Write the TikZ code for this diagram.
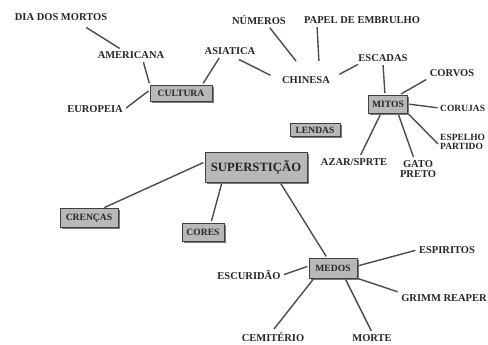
\documentclass[tikz,border=0pt]{standalone}
\usepackage{fontspec}
\setmainfont{Liberation Serif}
\usetikzlibrary{shadows}
\begin{document}
\begin{tikzpicture}[x=1pt,y=-1pt,
  lbl/.style={font=\bfseries\fontsize{10.5}{11}\selectfont, text=black!85, inner sep=2pt},
  edge lbl/.style={lbl, font=\bfseries\fontsize{9.5}{10}\selectfont, inner sep=1pt, anchor=west},
  box/.style={font=\bfseries\fontsize{9.6}{10}\selectfont, text=black!85, draw=black!75, line width=0.6pt, fill=black!28, inner xsep=0pt, inner ysep=0pt,
     drop shadow={shadow xshift=1.6pt, shadow yshift=-1.6pt, fill=black!65, opacity=0.8}},
  link/.style={draw=black!70, line width=1.4pt, shorten >=1.5pt, shorten <=1.5pt}
]
\useasboundingbox (0,0) rectangle (488,345);
% boxes
\node[box, minimum width=62pt, minimum height=16pt] (cultura) at (181,93) {CULTURA};
\node[box, minimum width=39pt, minimum height=18pt] (mitos) at (388,104) {MITOS};
\node[box, minimum width=50pt, minimum height=13pt] (lendas) at (315,130) {LENDAS};
\node[box, minimum width=102pt, minimum height=30pt, font=\bfseries\fontsize{12.7}{13}\selectfont] (sup) at (256,167) {SUPERSTIÇÃO};
\node[box, minimum width=58pt, minimum height=19pt] (crencas) at (89,218) {CRENÇAS};
\node[box, minimum width=42pt, minimum height=18pt] (cores) at (203,232) {CORES};
\node[box, minimum width=48pt, minimum height=20pt] (medos) at (333,268) {MEDOS};
% labels
\node[lbl] (dia) at (61,17) {DIA DOS MORTOS};
\node[lbl] (americana) at (131,55) {AMERICANA};
\node[lbl] (asiatica) at (230,51) {ASIATICA};
\node[lbl] (europeia) at (95,109) {EUROPEIA};
\node[lbl] (numeros) at (259,20) {NÚMEROS};
\node[lbl] (papel) at (362,20) {PAPEL DE EMBRULHO};
\node[lbl] (chinesa) at (306,80) {CHINESA};
\node[lbl] (escadas) at (383,58) {ESCADAS};
\node[lbl] (corvos) at (452,73) {CORVOS};
\node[edge lbl] (corujas) at (439,108) {CORUJAS};
\node[edge lbl, align=left] (espelho) at (439,142) {ESPELHO\\[-1.5pt]PARTIDO};
\node[lbl] (azar) at (354,162) {AZAR/SPRTE};
\node[lbl, align=center] (gato) at (418,169) {GATO\\[-1.5pt]PRETO};
\node[lbl] (espiritos) at (447,250) {ESPIRITOS};
\node[lbl] (escuridao) at (249,275) {ESCURIDÃO};
\node[lbl] (grimm) at (444,298) {GRIMM REAPER};
\node[lbl] (cemiterio) at (273,337) {CEMITÉRIO};
\node[lbl] (morte) at (372,338) {MORTE};
% coordinates for connector ends
\path (dia.south) ++(24,4) coordinate (diaE);
\path (americana.north) ++(-10,0) coordinate (amN);
\path (americana.south) ++(12,0) coordinate (amS);
\path (asiatica.south) ++(-10,0) coordinate (asS);
\path (asiatica.south east) ++(-20,2) coordinate (asE);
\path (chinesa.west) ++(-8,-4) coordinate (chW);
\path (chinesa.north) ++(-9,-12) coordinate (chN1);
\path (chinesa.north) ++(13,-12) coordinate (chN2);
\path (chinesa.east) ++(6,-5) coordinate (chE);
% connectors
\draw[link] (diaE) -- (amN);
\draw[link] (amS) -- (cultura.north west);
\draw[link] (asS) -- ([xshift=-10pt]cultura.north east);
\draw[link] (europeia.east) -- ([yshift=3pt]cultura.west);
\draw[link] (asE) -- (chW);
\draw[link] ([xshift=10pt]numeros.south) -- (chN1);
\draw[link] ([xshift=-45pt]papel.south) -- (chN2);
\draw[link] (chE) -- ([xshift=3pt]escadas.south west);
\draw[link] (escadas.south) -- ([xshift=-3pt]mitos.north);
\draw[link] (corvos.south west) -- ([xshift=-8pt]mitos.north east);
\draw[link] (corujas.west) -- (mitos.east);
\draw[link] ([yshift=-3pt]espelho.west) -- (mitos.south east);
\draw[link] ([xshift=-4pt]gato.north) -- ([xshift=10pt]mitos.south);
\draw[link] ([xshift=6pt]azar.north) -- ([xshift=-7pt]mitos.south);
\draw[link] ([yshift=5pt]sup.west) -- ([xshift=14pt]crencas.north);
\draw[link] ([xshift=-34pt]sup.south) -- ([xshift=8pt]cores.north);
\draw[link] ([xshift=24pt]sup.south) -- ([xshift=-6pt]medos.north);
\draw[link] ([yshift=2pt]medos.east) -- (espiritos.west);
\draw[link] (escuridao.east) -- ([yshift=2pt]medos.west);
\draw[link] (medos.south east) -- (grimm.north west);
\draw[link] ([xshift=-19pt]medos.south) -- (cemiterio.north);
\draw[link] ([xshift=12pt]medos.south) -- (morte.north);
\end{tikzpicture}
\end{document}
